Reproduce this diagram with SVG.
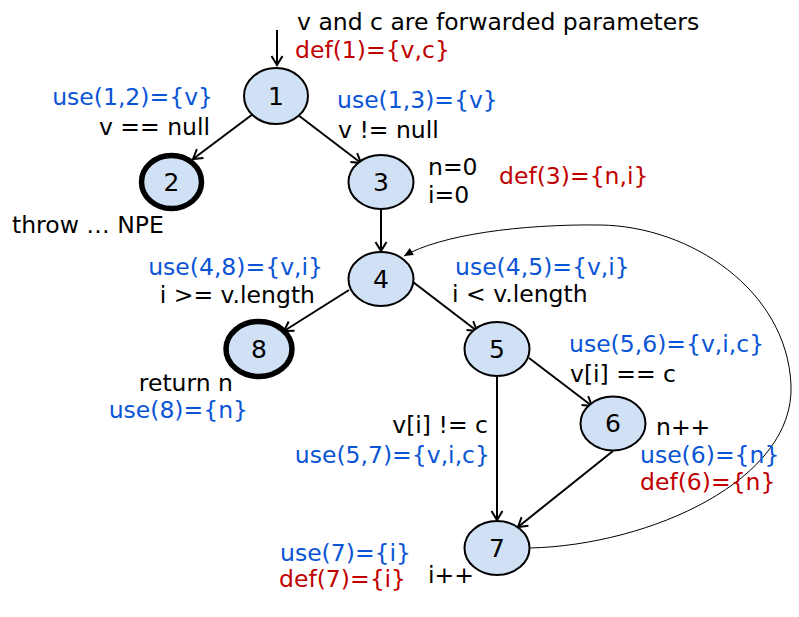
<svg xmlns="http://www.w3.org/2000/svg" width="799" height="617" viewBox="0 0 799 617">
<defs>
<marker id="arr" markerWidth="14" markerHeight="14" refX="12" refY="7" orient="auto" markerUnits="userSpaceOnUse">
<path d="M3,1.5 L12,7 L3,12.5" fill="none" stroke="#000" stroke-width="2"/>
</marker>
<marker id="arrs" markerWidth="12" markerHeight="12" refX="10" refY="6" orient="auto" markerUnits="userSpaceOnUse">
<path d="M1,2 L10,6 L1,10 Z" fill="#000"/>
</marker>
<style>
text{font-family:"DejaVu Sans","Verdana",sans-serif;font-size:23.5px;fill:#000}
.b{fill:#0A55D6}
.r{fill:#C00000}
.n{text-anchor:middle;font-size:25px}
.e{text-anchor:end}
ellipse{fill:#D0E0F5;stroke:#000;stroke-width:2}
ellipse.f{stroke-width:5.5}
.c line,.c path{stroke:#000;stroke-width:2;fill:none}
</style>
</defs>
<g class="c" id="connectors">
<line x1="277" y1="30" x2="277" y2="65" marker-end="url(#arr)"/>
<line x1="253" y1="114" x2="193" y2="159" marker-end="url(#arr)"/>
<line x1="298" y1="115" x2="361" y2="163" marker-end="url(#arr)"/>
<line x1="381" y1="209" x2="381" y2="251" marker-end="url(#arr)"/>
<line x1="349" y1="290" x2="284" y2="331" marker-end="url(#arr)"/>
<line x1="413" y1="282" x2="477" y2="331" marker-end="url(#arr)"/>
<line x1="529" y1="358" x2="592" y2="406" marker-end="url(#arr)"/>
<line x1="497" y1="376" x2="497" y2="520" marker-end="url(#arr)"/>
<line x1="613" y1="451" x2="518" y2="527" marker-end="url(#arr)"/>
<path d="M530,548 C650,545 795,480 791,385 C787,290 690,226 600,225 C520,224 440,235 404,256" style="stroke-width:1" marker-end="url(#arrs)"/>
</g>
<g id="n1"><ellipse cx="276" cy="96" rx="32" ry="28"/><text class="n" x="276" y="105">1</text></g>
<g id="n2"><ellipse class="f" cx="171.5" cy="182" rx="30" ry="26.5"/><text class="n" x="171.5" y="191">2</text></g>
<g id="n3"><ellipse cx="381" cy="182" rx="32.5" ry="27"/><text class="n" x="381" y="191">3</text></g>
<g id="n4"><ellipse cx="381" cy="279" rx="32.5" ry="27"/><text class="n" x="381" y="288">4</text></g>
<g id="n8"><ellipse class="f" cx="259" cy="349" rx="33" ry="27.5"/><text class="n" x="259" y="358">8</text></g>
<g id="n5"><ellipse cx="497" cy="349" rx="32.5" ry="27"/><text class="n" x="497" y="358">5</text></g>
<g id="n6"><ellipse cx="613" cy="423.5" rx="32.5" ry="27"/><text class="n" x="613" y="432">6</text></g>
<g id="n7"><ellipse cx="497" cy="548" rx="32.5" ry="27"/><text class="n" x="497" y="557">7</text></g>
<g id="labels">
<text x="297" y="30">v and c are forwarded parameters</text>
<text class="r" x="295" y="58">def(1)={v,c}</text>
<text class="b e" x="213" y="105">use(1,2)={v}</text>
<text class="e" x="210" y="135">v == null</text>
<text class="b" x="337" y="108">use(1,3)={v}</text>
<text x="338" y="138">v != null</text>
<text x="428" y="175">n=0</text>
<text x="428" y="203">i=0</text>
<text class="r" x="499" y="184">def(3)={n,i}</text>
<text x="12" y="233">throw … NPE</text>
<text class="b e" x="323" y="275">use(4,8)={v,i}</text>
<text class="e" x="315" y="303">i &gt;= v.length</text>
<text class="b" x="455" y="275">use(4,5)={v,i}</text>
<text x="452" y="302">i &lt; v.length</text>
<text class="e" x="233" y="391">return n</text>
<text class="b e" x="248" y="418">use(8)={n}</text>
<text class="b" x="569" y="352">use(5,6)={v,i,c}</text>
<text x="570" y="382">v[i] == c</text>
<text class="e" x="488" y="433">v[i] != c</text>
<text class="b e" x="490" y="463">use(5,7)={v,i,c}</text>
<text x="656" y="435">n++</text>
<text class="b" x="640" y="463">use(6)={n}</text>
<text class="r" x="640" y="490">def(6)={n}</text>
<text class="b" x="280" y="561">use(7)={i}</text>
<text class="r" x="279" y="587">def(7)={i}</text>
<text x="428" y="583">i++</text>
</g>
</svg>
